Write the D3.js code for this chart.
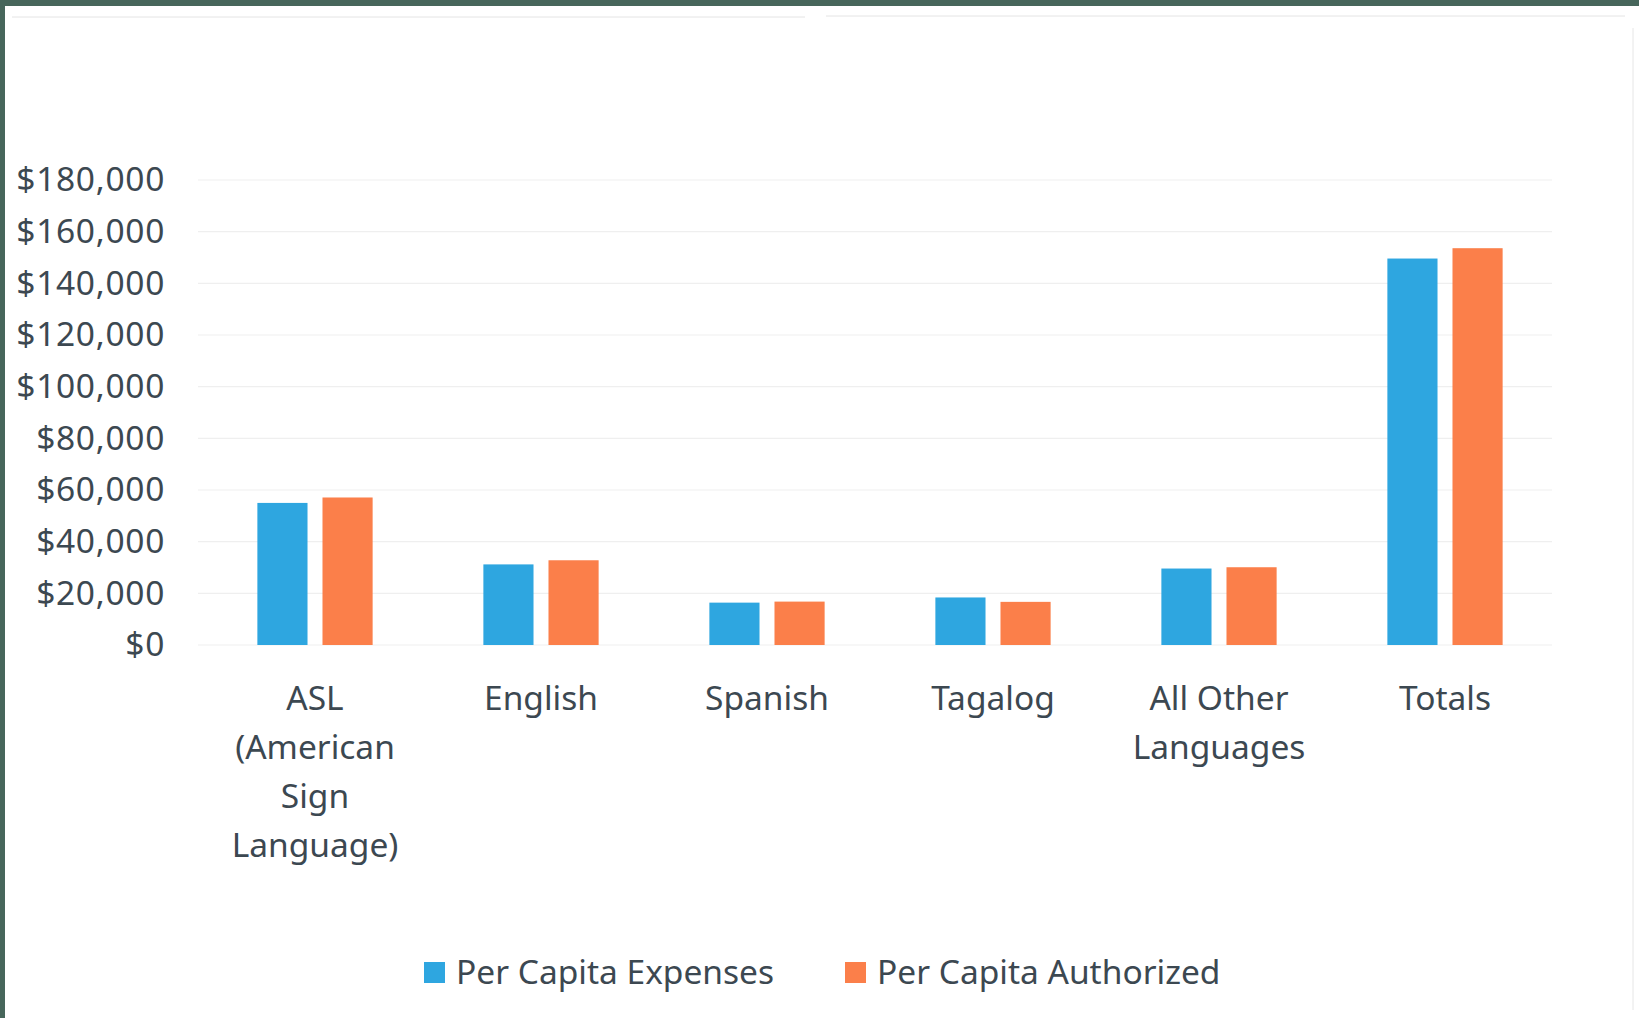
<!DOCTYPE html>
<html>
<head>
<meta charset="utf-8">
<script src="https://cdn.jsdelivr.net/npm/d3@7"></script>
<style>
  body { margin: 0; background: #fff; }
  text { font-family: "Noto Sans", "Open Sans", sans-serif; fill: #3c4851; }
</style>
</head>
<body>
<div class="chart"></div>
<script>
// chart data
const categories = ["ASL\n(American\nSign\nLanguage)", "English", "Spanish", "Tagalog", "All Other\nLanguages", "Totals"];
const seriesNames = ["Per Capita Expenses", "Per Capita Authorized"];
const expenses = [55000, 31200, 16400, 18400, 29600, 149600];
const authorized = [57100, 32800, 16800, 16700, 30100, 153600];
const yTicks = [0, 20000, 40000, 60000, 80000, 100000, 120000, 140000, 160000, 180000];
const colors = ["#2ea6e0", "#fb7f4a"];

const W = 1639, H = 1018;

var svg = d3.select(".chart").append("svg")
    .attr("width", W)
    .attr("height", H);

// scanned page border
svg.append("rect").attr("x", 0).attr("y", 0).attr("width", W).attr("height", 6).attr("fill", "#47665b");
svg.append("rect").attr("x", 0).attr("y", 0).attr("width", 5).attr("height", H).attr("fill", "#47665b");
svg.append("line").attr("x1", 12).attr("x2", 805).attr("y1", 17).attr("y2", 17).attr("stroke", "#e4e4e4");
svg.append("line").attr("x1", 826).attr("x2", 1625).attr("y1", 16).attr("y2", 16).attr("stroke", "#e4e4e4");
svg.append("line").attr("x1", 1633).attr("x2", 1633).attr("y1", 28).attr("y2", 1010).attr("stroke", "#e6e6e6");

// scales
const x0 = d3.scaleBand().domain(categories).range([202, 1558]).paddingInner(0.49).paddingOuter(0.245);
const x1 = d3.scaleBand().domain(seriesNames).range([0, x0.bandwidth()]).paddingInner(0.23);
const y = d3.scaleLinear().domain([0, 180000]).range([645, 180]);

// gridlines
svg.append("g")
  .selectAll("line")
  .data(yTicks)
  .join("line")
    .attr("x1", 198).attr("x2", 1552)
    .attr("y1", d => y(d)).attr("y2", d => y(d))
    .attr("stroke", "#efefef")
    .attr("stroke-width", 1.2);

// y axis labels
const yAxis = svg.append("g")
    .attr("transform", "translate(165,0)")
    .call(d3.axisLeft(y).tickValues(yTicks).tickSize(0).tickPadding(0)
      .tickFormat(d => "$" + d3.format(",")(d)));
yAxis.select(".domain").remove();
yAxis.selectAll("text")
    .style("font-size", "33.5px")
    .style("letter-spacing", "0.7px")
    .attr("fill", "#3c4851")
    .attr("font-family", null);

// bars
const rows = categories.map((c, i) => ({ cat: c, vals: [expenses[i], authorized[i]] }));
svg.append("g")
  .selectAll("g")
  .data(rows)
  .join("g")
    .attr("transform", d => "translate(" + x0(d.cat) + ",0)")
  .selectAll("rect")
  .data(d => d.vals.map((v, j) => ({ name: seriesNames[j], v: v, j: j })))
  .join("rect")
    .attr("x", d => x1(d.name))
    .attr("y", d => y(d.v))
    .attr("width", x1.bandwidth())
    .attr("height", d => y(0) - y(d.v))
    .attr("fill", d => colors[d.j]);

// category labels
const xl = svg.append("g");
categories.forEach(c => {
  const t = xl.append("text")
      .attr("x", x0(c) + x0.bandwidth() / 2)
      .attr("y", 698)
      .attr("text-anchor", "middle")
      .style("font-size", "33.5px");
  c.split("\n").forEach((line, k) => {
    t.append("tspan")
      .attr("x", x0(c) + x0.bandwidth() / 2)
      .attr("dy", k == 0 ? "0.35em" : 49)
      .text(line);
  });
});

// legend
const legendX = [424, 845];
seriesNames.forEach((s, i) => {
  svg.append("rect")
    .attr("x", legendX[i]).attr("y", 962)
    .attr("width", 21).attr("height", 21)
    .attr("fill", colors[i]);
  svg.append("text")
    .attr("x", legendX[i] + 32).attr("y", 972)
    .attr("dy", "0.35em")
    .style("font-size", "33.5px")
    .text(s);
});
</script>
</body>
</html>
